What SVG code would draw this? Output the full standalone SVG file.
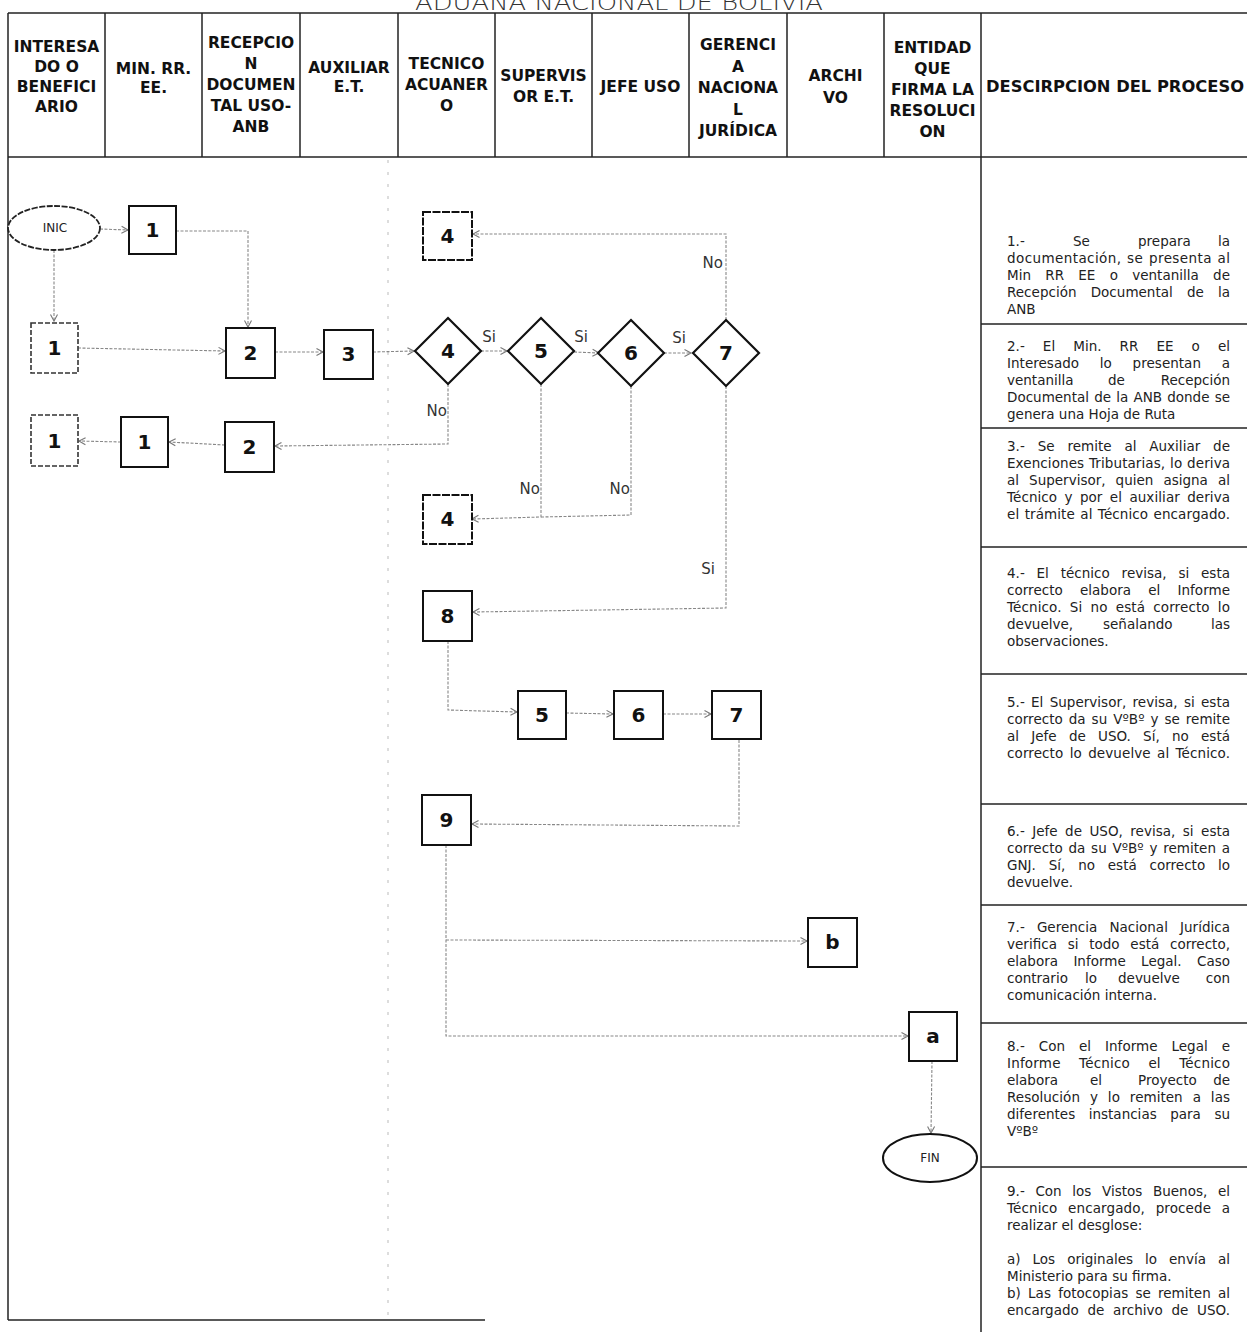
<svg xmlns="http://www.w3.org/2000/svg" width="1247" height="1332" viewBox="0 0 1247 1332">
<style>
.grid{stroke:#222;stroke-width:1.5;fill:none}
.faint{stroke:#bbb;stroke-width:1;stroke-dasharray:3 9;fill:none}
.hd{font-family:"DejaVu Sans",Verdana,sans-serif;font-weight:bold;font-size:15.5px;fill:#111;text-anchor:middle}
.ds{font-family:"DejaVu Sans",Verdana,sans-serif;font-size:13.5px;fill:#222}
.box{fill:#fff;stroke:#111;stroke-width:2}
.boxd{fill:#fff;stroke:#333;stroke-width:1.6;stroke-dasharray:5 2}
.dia{fill:#fff;stroke:#111;stroke-width:2.2}
.num{font-family:"DejaVu Sans",Verdana,sans-serif;font-weight:bold;font-size:20px;fill:#111;text-anchor:middle}
.term{font-family:"DejaVu Sans",Verdana,sans-serif;font-size:12px;fill:#222;text-anchor:middle}
.lbl{font-family:"DejaVu Sans",Tahoma,sans-serif;font-size:15px;fill:#333;text-anchor:end}
.c{stroke:#888;stroke-width:1.1;stroke-dasharray:3 1.5;fill:none}
.ca{stroke:#888;stroke-width:1.1;stroke-dasharray:3 1.5;fill:none;marker-end:url(#arr)}
</style>
<defs>
<marker id="arr" markerWidth="9" markerHeight="9" refX="7.5" refY="4.5" orient="auto" markerUnits="userSpaceOnUse">
<path d="M1,1 L7.5,4.5 L1,8" fill="none" stroke="#777" stroke-width="1.1"/>
</marker>
</defs>
<rect width="1247" height="1332" fill="#fff"/>

<text x="415" y="10" textLength="408" lengthAdjust="spacingAndGlyphs" style="font-family:'DejaVu Sans',Tahoma,sans-serif;font-size:22px;fill:#333;font-weight:300">ADUANA NACIONAL DE BOLIVIA</text>

<g id="table">
<line class="grid" x1="8" y1="13" x2="1247" y2="13"/>
<line class="grid" x1="8" y1="157" x2="1247" y2="157"/>
<line class="grid" x1="8" y1="13" x2="8" y2="1320"/>
<line class="grid" x1="105" y1="13" x2="105" y2="157"/>
<line class="grid" x1="202" y1="13" x2="202" y2="157"/>
<line class="grid" x1="300" y1="13" x2="300" y2="157"/>
<line class="grid" x1="398" y1="13" x2="398" y2="157"/>
<line class="grid" x1="495" y1="13" x2="495" y2="157"/>
<line class="grid" x1="592" y1="13" x2="592" y2="157"/>
<line class="grid" x1="689" y1="13" x2="689" y2="157"/>
<line class="grid" x1="787" y1="13" x2="787" y2="157"/>
<line class="grid" x1="884" y1="13" x2="884" y2="157"/>
<line class="grid" x1="981" y1="13" x2="981" y2="1332"/>
<line class="grid" x1="8" y1="1320" x2="485" y2="1320"/>
<line class="faint" x1="388" y1="160" x2="388" y2="1315"/>
<line class="grid" x1="981" y1="324" x2="1247" y2="324"/>
<line class="grid" x1="981" y1="428" x2="1247" y2="428"/>
<line class="grid" x1="981" y1="547" x2="1247" y2="547"/>
<line class="grid" x1="981" y1="674" x2="1247" y2="674"/>
<line class="grid" x1="981" y1="804" x2="1247" y2="804"/>
<line class="grid" x1="981" y1="905" x2="1247" y2="905"/>
<line class="grid" x1="981" y1="1023" x2="1247" y2="1023"/>
<line class="grid" x1="981" y1="1167" x2="1247" y2="1167"/>
</g>

<g id="header">
<text class="hd"><tspan x="56.5" y="52">INTERESA</tspan><tspan x="56.5" y="72">DO O</tspan><tspan x="56.5" y="92">BENEFICI</tspan><tspan x="56.5" y="112">ARIO</tspan></text>
<text class="hd"><tspan x="153.5" y="74">MIN. RR.</tspan><tspan x="153.5" y="93">EE.</tspan></text>
<text class="hd"><tspan x="251" y="48">RECEPCIO</tspan><tspan x="251" y="69">N</tspan><tspan x="251" y="90">DOCUMEN</tspan><tspan x="251" y="111">TAL USO-</tspan><tspan x="251" y="132">ANB</tspan></text>
<text class="hd"><tspan x="349" y="73">AUXILIAR</tspan><tspan x="349" y="92">E.T.</tspan></text>
<text class="hd"><tspan x="446.5" y="69">TECNICO</tspan><tspan x="446.5" y="90">ACUANER</tspan><tspan x="446.5" y="111">O</tspan></text>
<text class="hd"><tspan x="543.5" y="81">SUPERVIS</tspan><tspan x="543.5" y="102">OR E.T.</tspan></text>
<text class="hd" x="640.5" y="92">JEFE USO</text>
<text class="hd"><tspan x="738" y="50">GERENCI</tspan><tspan x="738" y="72">A</tspan><tspan x="738" y="93">NACIONA</tspan><tspan x="738" y="115">L</tspan><tspan x="738" y="136">JURÍDICA</tspan></text>
<text class="hd"><tspan x="835.5" y="81">ARCHI</tspan><tspan x="835.5" y="103">VO</tspan></text>
<text class="hd"><tspan x="932.5" y="53">ENTIDAD</tspan><tspan x="932.5" y="74">QUE</tspan><tspan x="932.5" y="95">FIRMA LA</tspan><tspan x="932.5" y="116">RESOLUCI</tspan><tspan x="932.5" y="137">ON</tspan></text>
<text class="hd" x="986" y="92" textLength="258" lengthAdjust="spacingAndGlyphs" style="text-anchor:start">DESCIRPCION DEL PROCESO</text>
</g>

<g id="descripcion" class="ds">
<text x="1007" y="245.5">1.-</text><text x="1073" y="245.5">Se</text><text x="1138" y="245.5">prepara</text><text x="1230" y="245.5" text-anchor="end">la</text>
<text x="1007" y="262.5" textLength="223" lengthAdjust="spacing" word-spacing="1">documentación, se presenta al</text>
<text x="1007" y="279.5" textLength="223" lengthAdjust="spacing" word-spacing="10">Min RR EE o ventanilla de</text>
<text x="1007" y="296.5" textLength="223" lengthAdjust="spacing" word-spacing="9.8">Recepción Documental de la</text>
<text x="1007" y="313.5">ANB</text>

<text x="1007" y="350.5" textLength="223" lengthAdjust="spacing" word-spacing="13.7">2.- El Min. RR EE o el</text>
<text x="1007" y="367.5" textLength="223" lengthAdjust="spacing" word-spacing="16.4">Interesado lo presentan a</text>
<text x="1007" y="384.5">ventanilla</text><text x="1108" y="384.5">de</text><text x="1230" y="384.5" text-anchor="end">Recepción</text>
<text x="1007" y="401.5" textLength="223" lengthAdjust="spacing" word-spacing="0.9">Documental de la ANB donde se</text>
<text x="1007" y="418.5">genera una Hoja de Ruta</text>

<text x="1007" y="450.5" textLength="223" lengthAdjust="spacing" word-spacing="8.6">3.- Se remite al Auxiliar de</text>
<text x="1007" y="467.5" textLength="223" lengthAdjust="spacing" word-spacing="0.5">Exenciones Tributarias, lo deriva</text>
<text x="1007" y="484.5" textLength="223" lengthAdjust="spacing" word-spacing="5.8">al Supervisor, quien asigna al</text>
<text x="1007" y="501.5" textLength="223" lengthAdjust="spacing" word-spacing="3">Técnico y por el auxiliar deriva</text>
<text x="1007" y="518.5" textLength="223" lengthAdjust="spacing" word-spacing="1">el trámite al Técnico encargado.</text>

<text x="1007" y="577.5" textLength="223" lengthAdjust="spacing" word-spacing="7.5">4.- El técnico revisa, si esta</text>
<text x="1007" y="594.5" textLength="223" lengthAdjust="spacing" word-spacing="12.8">correcto elabora el Informe</text>
<text x="1007" y="611.5" textLength="223" lengthAdjust="spacing" word-spacing="3.8">Técnico. Si no está correcto lo</text>
<text x="1007" y="628.5">devuelve,</text><text x="1103" y="628.5">señalando</text><text x="1230" y="628.5" text-anchor="end">las</text>
<text x="1007" y="645.5">observaciones.</text>

<text x="1007" y="706.5" textLength="223" lengthAdjust="spacing" word-spacing="2">5.- El Supervisor, revisa, si esta</text>
<text x="1007" y="723.5" textLength="223" lengthAdjust="spacing" word-spacing="1.6">correcto da su VºBº y se remite</text>
<text x="1007" y="740.5" textLength="223" lengthAdjust="spacing" word-spacing="7.9">al Jefe de USO. Sí, no está</text>
<text x="1007" y="757.5" textLength="223" lengthAdjust="spacing" word-spacing="1.9">correcto lo devuelve al Técnico.</text>

<text x="1007" y="835.5" textLength="223" lengthAdjust="spacing" word-spacing="3.2">6.- Jefe de USO, revisa, si esta</text>
<text x="1007" y="852.5" textLength="223" lengthAdjust="spacing" word-spacing="1.4">correcto da su VºBº y remiten a</text>
<text x="1007" y="869.5" textLength="223" lengthAdjust="spacing" word-spacing="8.5">GNJ. Sí, no está correcto lo</text>
<text x="1007" y="886.5">devuelve.</text>

<text x="1007" y="931.5" textLength="223" lengthAdjust="spacing" word-spacing="7.8">7.- Gerencia Nacional Jurídica</text>
<text x="1007" y="948.5" textLength="223" lengthAdjust="spacing" word-spacing="6.4">verifica si todo está correcto,</text>
<text x="1007" y="965.5" textLength="223" lengthAdjust="spacing" word-spacing="11">elabora Informe Legal. Caso</text>
<text x="1007" y="982.5">contrario</text><text x="1085" y="982.5">lo</text><text x="1118" y="982.5">devuelve</text><text x="1230" y="982.5" text-anchor="end">con</text>
<text x="1007" y="999.5">comunicación interna.</text>

<text x="1007" y="1050.5" textLength="223" lengthAdjust="spacing" word-spacing="9.6">8.- Con el Informe Legal e</text>
<text x="1007" y="1067.5" textLength="223" lengthAdjust="spacing" word-spacing="13.9">Informe Técnico el Técnico</text>
<text x="1007" y="1084.5">elabora</text><text x="1090" y="1084.5">el</text><text x="1138" y="1084.5">Proyecto</text><text x="1230" y="1084.5" text-anchor="end">de</text>
<text x="1007" y="1101.5" textLength="223" lengthAdjust="spacing" word-spacing="5.6">Resolución y lo remiten a las</text>
<text x="1007" y="1118.5" textLength="223" lengthAdjust="spacing" word-spacing="9.2">diferentes instancias para su</text>
<text x="1007" y="1135.5">VºBº</text>

<text x="1007" y="1195.5" textLength="223" lengthAdjust="spacing" word-spacing="6.3">9.- Con los Vistos Buenos, el</text>
<text x="1007" y="1212.5" textLength="223" lengthAdjust="spacing" word-spacing="6.3">Técnico encargado, procede a</text>
<text x="1007" y="1229.5">realizar el desglose:</text>
<text x="1007" y="1263.5" textLength="223" lengthAdjust="spacing" word-spacing="7.7">a) Los originales lo envía al</text>
<text x="1007" y="1280.5">Ministerio para su firma.</text>
<text x="1007" y="1297.5" textLength="223" lengthAdjust="spacing" word-spacing="2.9">b) Las fotocopias se remiten al</text>
<text x="1007" y="1314.5" textLength="223" lengthAdjust="spacing" word-spacing="4.3">encargado de archivo de USO.</text>
</g>

<g id="connectors">
<path class="ca" d="M100,229 L128,230"/>
<path class="ca" d="M176,231 L248,231 L248,327"/>
<path class="ca" d="M54,250 L54,321"/>
<path class="ca" d="M78,348 L225,351"/>
<path class="ca" d="M275,352 L323,352"/>
<path class="ca" d="M373,352 L414,351"/>
<path class="ca" d="M481,351 L507,351"/>
<path class="ca" d="M574,352 L599,353"/>
<path class="ca" d="M664,353 L691,353"/>
<path class="ca" d="M726,320 L726,234 L473,234"/>
<path class="ca" d="M448,384 L448,444 L275,446"/>
<path class="ca" d="M225,445 L169,442"/>
<path class="ca" d="M121,442 L79,441"/>
<path class="ca" d="M541,384 L541,517 L472,519"/>
<path class="c" d="M631,386 L631,515 L541,517"/>
<path class="ca" d="M726,386 L726,608 L473,612"/>
<path class="ca" d="M448,641 L448,710 L517,712"/>
<path class="ca" d="M566,713 L613,714"/>
<path class="ca" d="M663,714 L711,714"/>
<path class="ca" d="M739,740 L739,826 L472,824"/>
<path class="ca" d="M446,845 L446,1036 L908,1036"/>
<path class="ca" d="M446,940 L807,941"/>
<path class="ca" d="M932,1061 L931,1133"/>
</g>

<g id="labels" class="lbl">
<text x="496" y="342">Si</text>
<text x="588" y="342">Si</text>
<text x="686" y="343">Si</text>
<text x="723" y="268">No</text>
<text x="447" y="416">No</text>
<text x="540" y="494">No</text>
<text x="630" y="494">No</text>
<text x="715" y="574">Si</text>
</g>

<g id="nodes">
<g id="n-inic"><ellipse cx="54" cy="228" rx="46" ry="22" fill="#fff" stroke="#222" stroke-width="1.8" stroke-dasharray="6 1.5"/><text class="term" x="55" y="232">INIC</text></g>
<g id="n-1a"><rect class="box" x="129" y="206" width="47" height="48"/><text class="num" x="152.5" y="237">1</text></g>
<g id="n-1b"><rect class="boxd" x="31" y="323" width="47" height="50"/><text class="num" x="54.5" y="355">1</text></g>
<g id="n-2a"><rect class="box" x="226" y="328" width="49" height="50"/><text class="num" x="250.5" y="360">2</text></g>
<g id="n-3"><rect class="box" x="324" y="330" width="49" height="49"/><text class="num" x="348.5" y="361">3</text></g>
<g id="n-d4"><polygon class="dia" points="448,318 481,351 448,384 415,351"/><text class="num" x="448" y="358">4</text></g>
<g id="n-d5"><polygon class="dia" points="541,318 574,351 541,384 508,351"/><text class="num" x="541" y="358">5</text></g>
<g id="n-d6"><polygon class="dia" points="631,320 664,353 631,386 598,353"/><text class="num" x="631" y="360">6</text></g>
<g id="n-d7"><polygon class="dia" points="726,320 759,353 726,386 693,353"/><text class="num" x="726" y="360">7</text></g>
<g id="n-4a"><rect class="box" x="423" y="212" width="49" height="48" style="stroke-dasharray:8 1.5"/><text class="num" x="447.5" y="243">4</text></g>
<g id="n-1c"><rect class="boxd" x="31" y="415" width="47" height="51"/><text class="num" x="54.5" y="448">1</text></g>
<g id="n-1d"><rect class="box" x="121" y="417" width="47" height="50"/><text class="num" x="144.5" y="449">1</text></g>
<g id="n-2b"><rect class="box" x="225" y="422" width="49" height="50"/><text class="num" x="249.5" y="454">2</text></g>
<g id="n-4b"><rect class="box" x="423" y="495" width="49" height="49" style="stroke-dasharray:8 1.5"/><text class="num" x="447.5" y="526">4</text></g>
<g id="n-8"><rect class="box" x="423" y="591" width="49" height="50"/><text class="num" x="447.5" y="623">8</text></g>
<g id="n-5"><rect class="box" x="518" y="691" width="48" height="48"/><text class="num" x="542" y="722">5</text></g>
<g id="n-6"><rect class="box" x="614" y="691" width="49" height="48"/><text class="num" x="638.5" y="722">6</text></g>
<g id="n-7"><rect class="box" x="712" y="691" width="49" height="48"/><text class="num" x="736.5" y="722">7</text></g>
<g id="n-9"><rect class="box" x="422" y="795" width="49" height="50"/><text class="num" x="446.5" y="827">9</text></g>
<g id="n-b"><rect class="box" x="808" y="918" width="49" height="49"/><text class="num" x="832.5" y="949">b</text></g>
<g id="n-a"><rect class="box" x="909" y="1012" width="48" height="49"/><text class="num" x="933" y="1043">a</text></g>
<g id="n-fin"><ellipse cx="930" cy="1158" rx="47" ry="24" fill="#fff" stroke="#111" stroke-width="2"/><text class="term" x="930" y="1162">FIN</text></g>
</g>
</svg>
